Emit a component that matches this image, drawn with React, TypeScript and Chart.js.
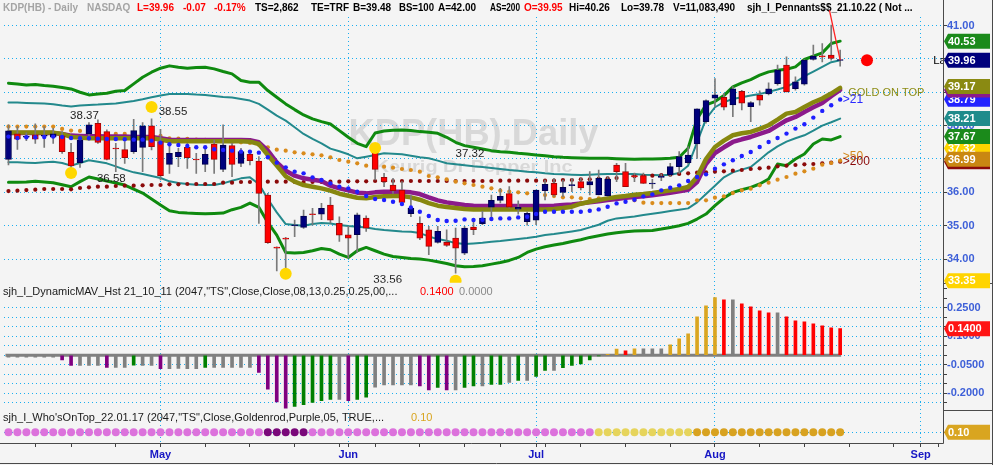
import React, { useEffect, useRef } from 'react';
import { Chart, registerables } from 'chart.js';

Chart.register(...registerables);

// ---------------- categories (trading days, 2022) ----------------
const aprDays = [6, 7, 8, 11, 12, 13, 14, 18, 19, 20, 21, 22, 25, 26, 27, 28, 29];
const mayDays = [2, 3, 4, 5, 6, 9, 10, 11, 12, 13, 16, 17, 18, 19, 20, 23, 24, 25, 26, 27, 31];
const junDays = [1, 2, 3, 6, 7, 8, 9, 10, 13, 14, 15, 16, 17, 21, 22, 23, 24, 27, 28, 29, 30];
const julDays = [1, 5, 6, 7, 8, 11, 12, 13, 14, 15, 18, 19, 20, 21, 22, 25, 26, 27, 28, 29];
const augDays = [1, 2, 3, 4, 5, 8, 9, 10, 11, 12, 15, 16, 17, 18, 19, 22, 23, 24, 25, 26, 29, 30, 31];
const sepDays = [1, 2, 7];
const monthNames = ['Jan', 'Feb', 'Mar', 'Apr', 'May', 'Jun', 'Jul', 'Aug', 'Sep', 'Oct', 'Nov', 'Dec'];

// ---------------- candles ----------------
const openP = [
  36.99, 37.75, 37.65, 37.72, 37.68, 37.65, 37.69, 37.20, 36.89, 37.75,
  38.07, 37.82, 37.32, 37.28, 37.22, 37.35, 37.99, 37.52, 36.84, 37.07,
  37.35, 37.00, 36.84, 37.45, 36.69, 37.40, 36.87, 37.14, 36.94, 35.92,
  34.35, 34.62, 35.00, 34.95, 35.36, 35.35, 35.62, 35.07, 34.73, 34.73,
  35.23, 37.20, 36.45, 36.22, 36.07, 35.36, 35.07, 34.88, 34.50, 34.50,
  34.63, 34.18, 34.96, 35.06, 35.56, 35.76, 35.96, 35.50, 35.12, 35.17,
  36.05, 36.27, 36.00, 36.20, 36.32, 36.22, 35.92, 35.90, 36.82, 36.62,
  36.50, 36.50, 36.25, 36.45, 36.52, 36.77, 36.89, 37.45, 38.12, 38.82,
  38.85, 38.62, 39.03, 38.57, 38.91, 38.95, 39.26, 39.81, 39.11, 39.24,
  39.98, 40.09, 40.11, 39.95,
];
const highP = [
  38.02, 37.97, 37.78, 38.05, 37.97, 37.92, 37.82, 37.47, 37.62, 38.09,
  38.17, 37.87, 37.47, 37.52, 38.19, 38.09, 38.20, 37.89, 37.42, 37.32,
  37.47, 37.17, 37.32, 37.57, 38.02, 37.47, 37.32, 37.22, 37.07, 35.97,
  34.37, 34.65, 35.17, 35.47, 35.52, 35.67, 35.85, 35.27, 34.98, 35.38,
  35.30, 37.25, 36.57, 36.42, 36.32, 35.92, 35.27, 34.98, 34.98, 34.88,
  34.93, 34.98, 35.17, 35.43, 35.92, 36.12, 36.17, 35.75, 35.42, 36.07,
  36.37, 36.42, 36.37, 36.42, 36.42, 36.62, 36.67, 36.47, 36.87, 36.87,
  36.58, 36.58, 36.39, 36.55, 36.87, 37.22, 37.37, 38.50, 38.77, 39.41,
  38.97, 39.17, 39.06, 38.72, 39.04, 39.28, 39.81, 40.06, 39.46, 39.98,
  40.41, 40.46, 41.01, 40.26,
];
const lowP = [
  36.82, 37.29, 37.55, 37.47, 37.35, 37.47, 37.17, 36.67, 36.75, 37.57,
  37.47, 36.97, 36.62, 36.87, 37.17, 36.62, 37.27, 36.37, 36.57, 36.77,
  36.72, 36.57, 36.62, 36.57, 36.62, 36.47, 36.77, 36.82, 35.07, 34.47,
  33.65, 33.67, 34.67, 34.92, 35.02, 35.18, 35.08, 34.53, 34.03, 34.20,
  34.83, 36.37, 36.17, 35.97, 35.67, 35.27, 34.58, 34.13, 34.48, 34.38,
  33.58, 34.13, 34.73, 35.03, 35.18, 35.68, 35.53, 35.35, 35.02, 35.03,
  35.77, 35.87, 35.87, 36.02, 36.07, 35.92, 35.92, 35.87, 36.32, 36.17,
  36.32, 36.27, 36.12, 36.35, 36.47, 36.57, 36.85, 37.02, 38.07, 38.57,
  38.47, 38.27, 38.47, 38.12, 38.61, 38.92, 39.21, 39.01, 39.06, 39.21,
  39.96, 39.91, 39.96, 39.78,
];
const closeP = [
  37.84, 37.59, 37.68, 37.59, 37.70, 37.75, 37.22, 36.79, 37.57, 38.02,
  37.50, 36.99, 37.30, 37.04, 37.85, 37.99, 37.37, 36.50, 37.17, 37.20,
  37.04, 36.97, 37.14, 36.99, 37.42, 36.84, 37.22, 36.95, 35.97, 34.49,
  34.33, 34.60, 35.01, 35.29, 35.33, 35.52, 35.17, 34.72, 34.63, 35.33,
  34.93, 36.69, 36.32, 36.05, 35.70, 35.52, 34.63, 34.38, 34.83, 34.41,
  34.33, 34.93, 34.88, 35.23, 35.76, 35.88, 35.56, 35.55, 35.37, 36.07,
  36.24, 35.92, 36.15, 36.20, 36.13, 36.32, 36.42, 36.40, 36.62, 36.17,
  36.46, 36.27, 36.27, 36.48, 36.77, 37.07, 37.12, 38.50, 38.75, 38.92,
  38.55, 39.10, 38.67, 38.69, 38.76, 39.10, 39.66, 39.01, 39.31, 39.96,
  40.08, 40.06, 40.01, 39.96,
];

// ---------------- bands & averages ----------------
const bandOuterUp = [
  39.27, 39.25, 39.22, 39.23, 39.20, 39.18, 39.14, 39.10, 39.00, 38.92,
  38.95, 38.97, 39.03, 39.05, 39.25, 39.45, 39.60, 39.72, 39.79, 39.75,
  39.72, 39.74, 39.75, 39.70, 39.62, 39.55, 39.35, 39.30, 39.30, 39.05,
  38.85, 38.65, 38.48, 38.32, 38.20, 38.12, 38.05, 37.85, 37.65, 37.47,
  37.37, 37.78, 37.84, 37.86, 37.87, 37.85, 37.82, 37.80, 37.77, 37.65,
  37.50, 37.40, 37.35, 37.30, 37.25, 37.22, 37.20, 37.17, 37.15, 37.12,
  37.10, 37.07, 37.05, 37.04, 37.03, 37.02, 37.02, 37.02, 37.01, 37.00,
  36.99, 37.00, 37.00, 37.01, 37.02, 37.05, 37.32, 38.20, 38.62, 38.72,
  38.90, 39.16, 39.28, 39.38, 39.51, 39.61, 39.66, 39.69, 39.76, 39.98,
  40.08, 40.18, 40.46, 40.53,
];
const bandOuterLo = [
  36.30, 36.30, 36.31, 36.33, 36.31, 36.29, 36.23, 36.17, 36.32, 36.46,
  36.40, 36.34, 36.28, 36.22, 36.10, 35.98, 35.80, 35.62, 35.45, 35.40,
  35.38, 35.37, 35.36, 35.37, 35.38, 35.48, 35.55, 35.68, 35.55, 35.10,
  34.72, 34.20, 34.18, 34.20, 34.25, 34.32, 34.28, 34.15, 34.05, 34.25,
  34.35, 34.25, 34.15, 34.08, 34.05, 34.02, 34.00, 33.97, 33.92, 33.87,
  33.80, 33.77, 33.78, 33.80, 33.85, 33.90, 33.96, 34.05, 34.20, 34.30,
  34.37, 34.42, 34.47, 34.53, 34.58, 34.65, 34.70, 34.75, 34.79, 34.82,
  34.84, 34.85, 34.86, 34.90, 34.95, 35.00, 35.07, 35.20, 35.35, 35.60,
  35.83, 36.00, 36.08, 36.15, 36.25, 36.40, 36.85, 36.80, 37.00, 37.15,
  37.45, 37.60, 37.57, 37.67,
];
const bandInnerUp = [
  38.69, 38.69, 38.68, 38.67, 38.66, 38.64, 38.60, 38.57, 38.60, 38.62,
  38.63, 38.65, 38.66, 38.70, 38.74, 38.79, 38.85, 38.90, 38.95, 38.95,
  38.95, 38.93, 38.92, 38.89, 38.86, 38.84, 38.80, 38.75, 38.65, 38.48,
  38.30, 38.15, 37.95, 37.75, 37.60, 37.47, 37.31, 37.23, 37.14, 37.02,
  37.07, 37.12, 37.17, 37.16, 37.14, 37.10, 37.05, 37.02, 36.95, 36.87,
  36.84, 36.81, 36.78, 36.76, 36.73, 36.70, 36.67, 36.65, 36.62, 36.60,
  36.57, 36.55, 36.54, 36.53, 36.52, 36.53, 36.54, 36.55, 36.55, 36.55,
  36.55, 36.53, 36.52, 36.51, 36.53, 36.58, 36.80, 37.50, 38.20, 38.55,
  38.70, 38.80, 38.85, 38.90, 38.95, 39.01, 39.08, 39.16, 39.30, 39.48,
  39.62, 39.76, 39.90, 39.96,
];
const bandInnerLo = [
  36.90, 36.90, 36.89, 36.88, 36.90, 36.92, 36.88, 36.80, 36.88, 36.96,
  36.92, 36.87, 36.78, 36.68, 36.60, 36.55, 36.49, 36.43, 36.33, 36.28,
  36.25, 36.23, 36.22, 36.22, 36.27, 36.35, 36.42, 36.45, 36.25, 35.80,
  35.40, 35.05, 35.02, 35.00, 35.05, 35.08, 35.07, 35.02, 34.99, 34.97,
  34.95, 34.90, 34.87, 34.85, 34.83, 34.82, 34.78, 34.68, 34.60, 34.55,
  34.48, 34.45, 34.47, 34.49, 34.52, 34.54, 34.57, 34.60, 34.63, 34.67,
  34.72, 34.75, 34.79, 34.83, 34.87, 34.95, 35.03, 35.15, 35.22, 35.25,
  35.28, 35.32, 35.36, 35.40, 35.44, 35.48, 35.52, 35.70, 35.95, 36.20,
  36.45, 36.60, 36.68, 36.76, 36.98, 37.20, 37.38, 37.52, 37.62, 37.71,
  37.85, 38.00, 38.10, 38.21,
];
const maPurple = [
  37.78, 37.78, 37.78, 37.78, 37.78, 37.78, 37.75, 37.70, 37.69, 37.68,
  37.68, 37.67, 37.67, 37.67, 37.66, 37.66, 37.66, 37.62, 37.58, 37.57,
  37.57, 37.57, 37.57, 37.57, 37.57, 37.57, 37.57, 37.56, 37.50, 37.25,
  36.90, 36.65, 36.50, 36.42, 36.38, 36.34, 36.20, 36.12, 36.06, 35.99,
  35.97, 36.00, 36.02, 36.02, 36.02, 36.00, 35.95, 35.85, 35.76, 35.70,
  35.66, 35.62, 35.60, 35.59, 35.59, 35.59, 35.59, 35.59, 35.59, 35.59,
  35.59, 35.60, 35.62, 35.64, 35.67, 35.70, 35.73, 35.77, 35.80, 35.84,
  35.86, 35.88, 35.91, 35.95, 35.99, 36.03, 36.08, 36.31, 36.85, 37.18,
  37.35, 37.51, 37.59, 37.66, 37.75, 37.84, 38.00, 38.16, 38.26, 38.41,
  38.55, 38.68, 38.88, 39.07,
];
const maOlive = [
  37.79, 37.79, 37.79, 37.79, 37.79, 37.79, 37.75, 37.66, 37.64, 37.62,
  37.62, 37.62, 37.62, 37.62, 37.62, 37.62, 37.62, 37.58, 37.53, 37.53,
  37.53, 37.53, 37.53, 37.53, 37.53, 37.53, 37.53, 37.52, 37.45, 37.12,
  36.80, 36.48, 36.32, 36.22, 36.17, 36.12, 36.05, 35.96, 35.90, 35.84,
  35.82, 35.86, 35.88, 35.89, 35.89, 35.85, 35.78, 35.68, 35.60, 35.56,
  35.53, 35.50, 35.49, 35.49, 35.49, 35.49, 35.49, 35.49, 35.49, 35.49,
  35.49, 35.50, 35.53, 35.57, 35.66, 35.72, 35.77, 35.82, 35.86, 35.89,
  35.93, 35.95, 35.98, 36.02, 36.06, 36.10, 36.16, 36.46, 37.00, 37.36,
  37.55, 37.71, 37.77, 37.81, 37.90, 38.01, 38.18, 38.36, 38.41, 38.56,
  38.70, 38.81, 38.96, 39.13,
];
const ma21 = [
  37.67, 37.63, 37.65, 37.65, 37.66, 37.67, 37.66, 37.63, 37.62, 37.62,
  37.61, 37.60, 37.60, 37.59, 37.58, 37.58, 37.55, 37.49, 37.44, 37.42,
  37.39, 37.35, 37.35, 37.29, 37.27, 37.25, 37.22, 37.22, 37.19, 37.05,
  36.89, 36.75, 36.62, 36.57, 36.45, 36.37, 36.27, 36.17, 36.12, 36.02,
  35.89, 35.80, 35.77, 35.72, 35.65, 35.55, 35.42, 35.29, 35.17, 35.14,
  35.15, 35.19, 35.17, 35.18, 35.20, 35.22, 35.22, 35.25, 35.27, 35.35,
  35.42, 35.42, 35.42, 35.42, 35.42, 35.45, 35.49, 35.57, 35.67, 35.72,
  35.78, 35.88, 35.94, 36.06, 36.14, 36.21, 36.34, 36.46, 36.54, 36.71,
  36.84, 36.96, 37.09, 37.21, 37.36, 37.51, 37.63, 37.76, 37.91, 38.04,
  38.24, 38.44, 38.61, 38.78,
];
const ma50 = [
  37.97, 37.97, 37.97, 37.97, 37.97, 37.97, 37.90, 37.85, 37.84, 37.84,
  37.82, 37.77, 37.75, 37.75, 37.74, 37.74, 37.72, 37.69, 37.62, 37.61,
  37.60, 37.58, 37.57, 37.56, 37.54, 37.52, 37.50, 37.48, 37.42, 37.35,
  37.28, 37.25, 37.20, 37.17, 37.14, 37.11, 37.05, 36.97, 36.92, 36.87,
  36.80, 36.78, 36.77, 36.74, 36.70, 36.67, 36.62, 36.49, 36.45, 36.39,
  36.32, 36.27, 36.22, 36.17, 36.12, 36.05, 36.02, 36.00, 35.97, 35.92,
  35.92, 35.89, 35.85, 35.85, 35.82, 35.80, 35.82, 35.80, 35.80, 35.81,
  35.76, 35.69, 35.68, 35.68, 35.68, 35.68, 35.68, 35.76, 35.76, 35.84,
  35.88, 35.98, 36.06, 36.11, 36.21, 36.29, 36.38, 36.46, 36.56, 36.63,
  36.71, 36.83, 36.88, 36.95,
];
const ma200 = [
  36.04, 36.05, 36.07, 36.08, 36.10, 36.10, 36.10, 36.09, 36.13, 36.15,
  36.17, 36.17, 36.19, 36.20, 36.20, 36.21, 36.22, 36.22, 36.24, 36.24,
  36.25, 36.25, 36.25, 36.25, 36.29, 36.29, 36.31, 36.31, 36.32, 36.32,
  36.32, 36.32, 36.31, 36.31, 36.31, 36.31, 36.32, 36.32, 36.33, 36.33,
  36.33, 36.34, 36.34, 36.34, 36.34, 36.34, 36.34, 36.34, 36.34, 36.34,
  36.34, 36.34, 36.34, 36.34, 36.34, 36.35, 36.35, 36.35, 36.35, 36.35,
  36.35, 36.35, 36.37, 36.37, 36.39, 36.39, 36.41, 36.42, 36.43, 36.45,
  36.48, 36.49, 36.50, 36.52, 36.53, 36.55, 36.57, 36.59, 36.60, 36.62,
  36.63, 36.65, 36.67, 36.70, 36.72, 36.74, 36.78, 36.80, 36.82, 36.84,
  36.85, 36.87, 36.89, 36.92,
];

// ---------------- DynamicMAV histogram ----------------
const histValues = [
  -0.010, -0.010, -0.010, -0.010, -0.010, -0.010, -0.024, -0.053, -0.053, -0.053,
  -0.053, -0.064, -0.064, -0.064, -0.052, -0.053, -0.053, -0.071, -0.071, -0.069,
  -0.071, -0.071, -0.064, -0.064, -0.064, -0.064, -0.064, -0.064, -0.090, -0.178,
  -0.246, -0.278, -0.270, -0.260, -0.249, -0.239, -0.232, -0.232, -0.239, -0.232,
  -0.221, -0.168, -0.156, -0.156, -0.156, -0.156, -0.161, -0.182, -0.170, -0.182,
  -0.182, -0.170, -0.161, -0.161, -0.153, -0.153, -0.143, -0.133, -0.133, -0.111,
  -0.080, -0.080, -0.065, -0.054, -0.046, -0.025, -0.004, 0.005, 0.032, 0.024,
  0.034, 0.034, 0.034, 0.034, 0.055, 0.087, 0.113, 0.203, 0.260, 0.304,
  0.292, 0.292, 0.271, 0.255, 0.234, 0.224, 0.224, 0.203, 0.182, 0.176,
  0.166, 0.155, 0.145, 0.140,
];
// n gray, p purple, g green, y goldenrod, r red
const histKinds = (
  'nnnnnnppnn' + 'npnngnnpnn' + 'nngnnnnnpp' + 'ppgggggnpg' + 'gnnnnnppgp' +
  'nggnggngng' + 'gngggggyyr' + 'ynnnyyyyyy' + 'rnrrrrnrrr' + 'rrrr'
).split('');
const histAxisTicks = ['0.2500', '0.1000', '-0.0500', '-0.2000'];

// ---------------- Who's On Top ----------------
// o orchid, d dark purple, l pale gold, y goldenrod
const whoOnTop = (
  'oooooooooo' + 'oooooooooo' + 'oooooooood' + 'ddddoooooo' + 'oooooooooo' +
  'oooooooooo' + 'oooooollll' + 'lllllllyyy' + 'yyyyyyyyyy' + 'yyyy'
).split('');
const WHO_LEVEL = 0.1;

// ---------------- annotations ----------------
const pivotMarks = [
  { i: 7, v: 36.58 }, { i: 16, v: 38.56 }, { i: 31, v: 33.56 }, { i: 41, v: 37.33 }, { i: 50, v: 33.35 },
];
const pivotTexts = [
  { t: '38.37', i: 8.5, v: 38.29 },
  { t: '38.55', i: 18.4, v: 38.40 },
  { t: '36.58', i: 11.5, v: 36.42 },
  { t: '37.32', i: 51.6, v: 37.15 },
  { t: '33.56', i: 42.4, v: 33.38 },
];
const sideTexts = [
  { t: 'GOLD ON TOP', i: 93.9, v: 38.98, c: '#8c8c14', f: 11 },
  { t: '>21', i: 93.3, v: 38.78, c: '#2a2aff', f: 12 },
  { t: '>50', i: 93.3, v: 37.06, c: '#d2891e', f: 12 },
  { t: '>200', i: 93.3, v: 36.91, c: '#8b0a0a', f: 12 },
  { t: 'Last', i: 103.4, v: 39.94, c: '#000000', f: 11.5 },
];
const lastMarker = { i: 96, v: 39.96 };
const pennantLine = [{ i: 91.8, v: 41.46 }, { i: 93, v: 39.96 }];

const priceTags = [
  { v: 40.53, c: '#1b8a1b' },
  { v: 39.96, c: '#00007c' },
  { v: 38.79, c: '#2323ff' },
  { v: 39.07, c: '#8b1a8b' },
  { v: 39.17, c: '#8a8a12' },
  { v: 38.21, c: '#1f8b8b' },
  { v: 37.32, c: '#ffd400' },
  { v: 37.67, c: '#1b8a1b' },
  { v: 36.92, c: '#8b0a0a' },
  { v: 36.99, c: '#c98712' },
  { v: 33.35, c: '#ffd400' },
];
const histTag = { v: 0.14, c: '#ff1414', t: '0.1400' };
const dotTag = { v: 0.10, c: '#d9a520', t: '0.10' };

const headerSegs = [
  { t: 'KDP(HB) - Daily', x: 3, c: '#a4a4a4' },
  { t: 'NASDAQ', x: 87, c: '#a4a4a4' },
  { t: 'L=39.96', x: 137, c: '#ff0000' },
  { t: '-0.07', x: 183, c: '#ff0000' },
  { t: '-0.17%', x: 214, c: '#ff0000' },
  { t: 'TS=2,862', x: 255, c: '#000000' },
  { t: 'TE=TRF', x: 311, c: '#000000' },
  { t: 'B=39.48', x: 353, c: '#000000' },
  { t: 'BS=100', x: 399, c: '#000000' },
  { t: 'A=42.00', x: 438, c: '#000000' },
  { t: 'AS=200', x: 490, c: '#000000' },
  { t: 'O=39.95', x: 524, c: '#ff0000' },
  { t: 'Hi=40.26', x: 569, c: '#000000' },
  { t: 'Lo=39.78', x: 621, c: '#000000' },
  { t: 'V=11,083,490', x: 673, c: '#000000' },
  { t: 'sjh_I_Pennants$$_21.10.22 ( Not ...', x: 747, c: '#000000' },
];

const FONT = '"Liberation Sans", Arial, Helvetica, sans-serif';
const BG = '#f4f4f4';
const GRID = '#1aaef0';
const AXIS_TEXT = '#3e60d8';

const pad = (n: number) => (n < 10 ? '0' + n : '' + n);

export default function App() {
  const ref = useRef<HTMLCanvasElement>(null);

  useEffect(() => {
    document.body.style.margin = '0';
    const canvas = ref.current!;

    const dates: { m: number; d: number }[] = [];
    [[4, aprDays], [5, mayDays], [6, junDays], [7, julDays], [8, augDays], [9, sepDays]].forEach(([m, days]: any) =>
      days.forEach((d: number) => dates.push({ m, d }))
    );
    const labels = dates.map((x) => `2022-${pad(x.m)}-${pad(x.d)}`);
    const dow = dates.map((x) => new Date(2022, x.m - 1, x.d).getDay());
    const monthStart = dates.map((x, i) => i > 0 && x.m !== dates[i - 1].m);
    const weekStart = dates.map((x, i) => i > 0 && (dow[i] <= dow[i - 1] || monthStart[i]));

    const kindColor: any = { n: '#808080', p: '#800080', g: '#008000', y: '#daa520', r: '#ff0000' };
    const whoColor: any = { o: '#dc72dc', d: '#7a087a', l: '#e6d45c', y: '#d8a220' };
    const up = openP.map((o, i) => closeP[i] >= o);

    const lineDs = (data: number[], color: string, width: number, order: number) => ({
      type: 'line', data, yAxisID: 'yPrice', borderColor: color, borderWidth: width,
      pointRadius: 0, tension: 0, fill: false, order, borderJoinStyle: 'round', borderCapStyle: 'round',
    });
    const dotDs = (data: number[], color: string, r: number, order: number) => ({
      type: 'line', data, yAxisID: 'yPrice', showLine: false, pointRadius: r,
      pointBackgroundColor: color, pointBorderWidth: 0, order,
    });

    const near = (a: number, b: number) => Math.abs(a - b) < 1e-6;
    const tv = (ctx: any) => (ctx && ctx.tick ? ctx.tick.value : NaN);

    const yCommon = (extra: any) => ({
      type: 'linear', position: 'right', stack: 'panes', offset: false, beginAtZero: false,
      border: { display: false, dash: [1, 3] },
      afterFit: (s: any) => { s.width = 50; },
      ...extra,
    });

    const axisLabel = (chart: any, text: string) => {
      const { ctx, chartArea } = chart;
      const yH = chart.scales.yHist;
      ctx.save();
      ctx.globalAlpha = 1;
      ctx.globalCompositeOperation = 'source-over';
      ctx.font = `bold 11px ${FONT}`;
      ctx.fillStyle = AXIS_TEXT;
      ctx.textAlign = 'left';
      ctx.textBaseline = 'middle';
      ctx.fillText(text, Math.round(chartArea.right) + 4, yH.getPixelForValue(Number(text)));
      ctx.restore();
    };

    const decor = {
      id: 'decor',
      beforeDraw(chart: any) {
        const { ctx, width, height, chartArea } = chart;
        const yP = chart.scales.yPrice;
        ctx.save();
        ctx.fillStyle = BG;
        ctx.fillRect(0, 0, width, height);
        const cx = (chartArea.left + chartArea.right) / 2;
        ctx.fillStyle = '#d8d8d8';
        ctx.textAlign = 'center';
        ctx.textBaseline = 'alphabetic';
        const fitText = (t: string, size: number, w: number, y: number) => {
          ctx.font = `bold ${size}px ${FONT}`;
          const mw = ctx.measureText(t).width;
          ctx.save();
          ctx.translate(cx, y);
          ctx.scale(w / mw, 1);
          ctx.fillText(t, 0, 0);
          ctx.restore();
        };
        fitText('KDP(HB),Daily', 37, 250, yP.top + 128);
        fitText('Keurig Dr Pepper Inc', 17, 198, yP.top + 155);
        ctx.restore();
      },
      beforeDatasetsDraw(chart: any) {
        const { ctx } = chart;
        const xs = chart.scales.x, yH = chart.scales.yHist;
        const y0 = yH.getPixelForValue(0);
        ctx.save();
        ctx.strokeStyle = '#808080';
        ctx.lineWidth = 3;
        ctx.beginPath();
        ctx.moveTo(xs.getPixelForValue(0) - 3, y0);
        ctx.lineTo(xs.getPixelForValue(histValues.length - 1) + 1, y0);
        ctx.stroke();
        ctx.restore();
      },
      afterDatasetsDraw(chart: any) {
        const { ctx, chartArea } = chart;
        const xs = chart.scales.x, yP = chart.scales.yPrice;
        ctx.save();
        ctx.beginPath();
        ctx.rect(chartArea.left, yP.top, chartArea.right - chartArea.left, yP.bottom - yP.top);
        ctx.clip();
        ctx.fillStyle = '#ffd700';
        pivotMarks.forEach((p) => {
          ctx.beginPath();
          ctx.arc(xs.getPixelForValue(p.i), yP.getPixelForValue(p.v), 6, 0, Math.PI * 2);
          ctx.fill();
        });
        ctx.font = `11.5px ${FONT}`;
        ctx.fillStyle = '#1e1e1e';
        ctx.textAlign = 'center';
        ctx.textBaseline = 'middle';
        pivotTexts.forEach((p) => ctx.fillText(p.t, xs.getPixelForValue(p.i), yP.getPixelForValue(p.v)));
        ctx.fillStyle = '#ff0000';
        ctx.beginPath();
        ctx.arc(xs.getPixelForValue(lastMarker.i), yP.getPixelForValue(lastMarker.v), 6, 0, Math.PI * 2);
        ctx.fill();
        ctx.textAlign = 'left';
        sideTexts.forEach((s) => {
          ctx.font = `${s.f}px ${FONT}`;
          ctx.fillStyle = s.c;
          ctx.fillText(s.t, xs.getPixelForValue(s.i), yP.getPixelForValue(s.v));
        });
        ctx.restore();
      },
      afterDraw(chart: any) {
        const { ctx, chartArea, width, height } = chart;
        const xs = chart.scales.x, yP = chart.scales.yPrice, yH = chart.scales.yHist, yD = chart.scales.yDot;
        ctx.save();
        // header
        ctx.font = `bold 10px ${FONT}`;
        ctx.textAlign = 'left';
        ctx.textBaseline = 'middle';
        headerSegs.forEach((s, k) => {
          const next = k + 1 < headerSegs.length ? headerSegs[k + 1].x : 941;
          ctx.fillStyle = s.c;
          ctx.fillText(s.t, s.x, 8.5, next - s.x - 4);
        });
        // pennant line
        ctx.strokeStyle = '#ff2020';
        ctx.lineWidth = 1.3;
        ctx.beginPath();
        ctx.moveTo(xs.getPixelForValue(pennantLine[0].i), yP.getPixelForValue(pennantLine[0].v));
        ctx.lineTo(xs.getPixelForValue(pennantLine[1].i), yP.getPixelForValue(pennantLine[1].v));
        ctx.stroke();
        // panel titles
        ctx.font = `11px ${FONT}`;
        ctx.fillStyle = '#1a1a1a';
        ctx.fillText('sjh_I_DynamicMAV_Hst 21_10_11 (2047,"TS",Close,Close,08,13,0.25,0.25,00,...', 3, yH.top + 9, 412);
        ctx.fillStyle = '#ff0000';
        ctx.fillText('0.1400', 420, yH.top + 9);
        ctx.fillStyle = '#8a8a8a';
        ctx.fillText('0.0000', 459, yH.top + 9);
        ctx.fillStyle = '#1a1a1a';
        ctx.fillText('sjh_I_Who\'sOnTop_22.01.17 (2047,"TS",Close,Goldenrod,Purple,05, TRUE,...', 3, yD.top + 8, 402);
        ctx.fillStyle = '#d9a520';
        ctx.fillText('0.10', 411, yD.top + 8);
        // frame lines
        ctx.strokeStyle = '#4a4a4a';
        ctx.lineWidth = 1;
        const seg = (x1: number, y1: number, x2: number, y2: number) => {
          ctx.beginPath(); ctx.moveTo(x1, y1); ctx.lineTo(x2, y2); ctx.stroke();
        };
        const r = Math.round(chartArea.right) + 0.5;
        const b = Math.round(chartArea.bottom) + 0.5;
        seg(r, 0, r, b);
        seg(0, b, r, b);
        seg(r, Math.round(yH.top) + 0.5, width, Math.round(yH.top) + 0.5);
        seg(r, Math.round(yD.top) + 0.5, width, Math.round(yD.top) + 0.5);
        seg(width - 0.5, 0, width - 0.5, height);
        seg(0, height - 1.5, width, height - 1.5);
        ctx.restore();
        // the 0.1000 label sits under the 0.1400 tag
        axisLabel(chart, histAxisTicks[1]);
        // value tags
        ctx.save();
        const tag = (y: number, color: string, text: string) => {
          const x0 = r + 0.5, w = 46, h = 15;
          ctx.beginPath();
          ctx.moveTo(x0, y);
          ctx.lineTo(x0 + 4, y - h / 2);
          ctx.lineTo(x0 + w, y - h / 2);
          ctx.lineTo(x0 + w, y + h / 2);
          ctx.lineTo(x0 + 4, y + h / 2);
          ctx.closePath();
          ctx.fillStyle = color;
          ctx.fill();
          ctx.fillStyle = '#ffffff';
          ctx.font = `bold 11px ${FONT}`;
          ctx.textAlign = 'left';
          ctx.textBaseline = 'middle';
          ctx.fillText(text, x0 + 4, y + 0.5);
        };
        priceTags.forEach((t) => tag(yP.getPixelForValue(t.v), t.c, t.v.toFixed(2)));
        tag(yH.getPixelForValue(histTag.v), histTag.c, histTag.t);
        tag(yD.getPixelForValue(dotTag.v), dotTag.c, dotTag.t);
        ctx.restore();
      },
      afterRender(chart: any) {
        axisLabel(chart, histAxisTicks[0]);
        axisLabel(chart, histAxisTicks[2]);
        axisLabel(chart, histAxisTicks[3]);
      },
    };

    const chart = new Chart(canvas, {
      type: 'bar',
      data: {
        labels,
        datasets: [
          dotDs(ma21, '#1f1fff', 2.2, 1),
          {
            type: 'bar', data: openP.map((o, i) => [o, closeP[i]]), yAxisID: 'yPrice', grouped: false,
            barThickness: 6, minBarLength: 1, borderWidth: 1, borderSkipped: false,
            backgroundColor: up.map((u) => (u ? '#00007c' : '#ff0000')),
            borderColor: up.map((u) => (u ? '#000050' : '#a00808')), order: 2,
          },
          {
            type: 'bar', data: lowP.map((l, i) => [l, highP[i]]), yAxisID: 'yPrice', grouped: false,
            barThickness: 1, backgroundColor: '#7a7a7a', borderWidth: 0, order: 3,
          },
          lineDs(maOlive, '#87870f', 4.5, 4),
          lineDs(maPurple, '#8b1a8b', 4.5, 5),
          dotDs(ma50, '#d98b1c', 2.1, 6),
          dotDs(ma200, '#8b0a0a', 2.1, 7),
          lineDs(bandInnerUp, '#23898c', 2, 8),
          lineDs(bandInnerLo, '#23898c', 2, 8),
          lineDs(bandOuterUp, '#0f8a0f', 3, 9),
          lineDs(bandOuterLo, '#0f8a0f', 3, 9),
          {
            type: 'bar', data: histValues, yAxisID: 'yHist', grouped: false, barThickness: 3,
            backgroundColor: histKinds.map((k) => kindColor[k]), borderWidth: 0, order: 1,
          },
          {
            type: 'line', data: whoOnTop.map(() => WHO_LEVEL), yAxisID: 'yDot', showLine: false,
            pointRadius: 4, pointBorderWidth: 0, pointBackgroundColor: whoOnTop.map((k) => whoColor[k]), order: 1,
          },
        ] as any,
      },
      options: {
        responsive: false,
        animation: false,
        devicePixelRatio: 1,
        events: [],
        layout: { padding: { top: 17, left: 0, right: 0, bottom: 0 } },
        plugins: { legend: { display: false }, tooltip: { enabled: false }, title: { display: false } },
        scales: {
          x: {
            type: 'category', offset: true, position: 'bottom',
            grid: {
              offset: false, lineWidth: 1, drawTicks: true, tickLength: 4, tickWidth: 1,
              color: (c: any) => (monthStart[c.index] ? GRID : 'rgba(0,0,0,0)'),
              tickColor: (c: any) => (weekStart[c.index] ? '#404040' : 'rgba(0,0,0,0)'),
            },
            border: { display: false, dash: [1, 3] },
            ticks: {
              autoSkip: false, maxRotation: 0, minRotation: 0, padding: 1,
              color: '#1616c4', font: { family: FONT, size: 11, weight: 'bold' },
              callback: (_v: any, i: number) => (monthStart[i] ? monthNames[dates[i].m - 1] : ''),
            },
            afterFit: (s: any) => { s.height = 22; },
          },
          yPrice: yCommon({
            stackWeight: 266, min: 33.29, max: 41.254,
            grid: { color: GRID, lineWidth: 1, tickLength: 4, tickColor: '#404040' },
            ticks: {
              stepSize: 1, includeBounds: false, autoSkip: false, padding: 0, color: AXIS_TEXT,
              font: { family: FONT, size: 11, weight: 'bold' },
              callback: (v: any) => Number(v).toFixed(2),
            },
          }),
          yHist: yCommon({
            stackWeight: 127.7, min: -0.2905, max: 0.3816,
            grid: {
              lineWidth: 1, tickLength: 4, tickColor: '#404040',
              color: (c: any) => (Math.abs(tv(c)) < 0.26 ? GRID : 'rgba(0,0,0,0)'),
            },
            ticks: {
              stepSize: 0.05, includeBounds: false, autoSkip: false, padding: 0, maxTicksLimit: 20,
              callback: () => '',
            },
          }),
          yDot: yCommon({
            stackWeight: 32.6, min: 0, max: 0.3,
            grid: {
              lineWidth: 1, tickLength: 4,
              color: (c: any) => (near(tv(c), 0.1) ? GRID : 'rgba(0,0,0,0)'),
              tickColor: (c: any) => (near(tv(c), 0.1) ? '#404040' : 'rgba(0,0,0,0)'),
            },
            ticks: { stepSize: 0.1, includeBounds: false, autoSkip: false, padding: 0, callback: () => '' },
          }),
        },
      } as any,
      plugins: [decor as any],
    });

    return () => chart.destroy();
  }, []);

  return <canvas ref={ref} width={993} height={465} style={{ display: 'block', width: 993, height: 465 }} />;
}
